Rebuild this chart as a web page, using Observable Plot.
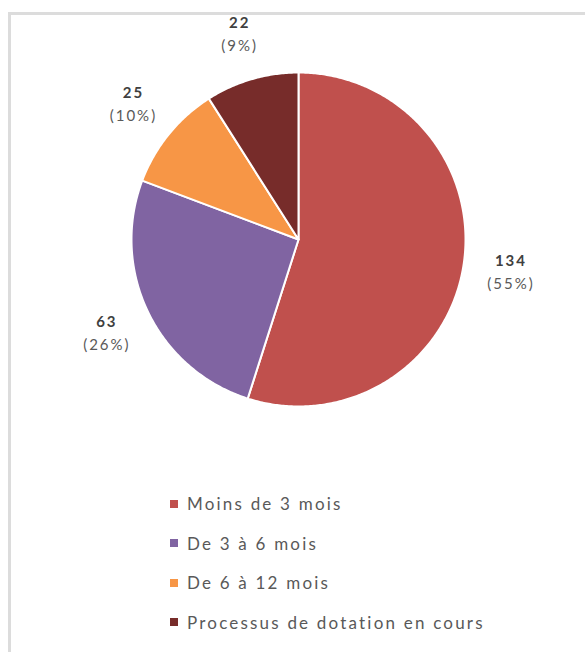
<!DOCTYPE html>
<html>
<head>
<meta charset="utf-8">
<script src="https://cdn.jsdelivr.net/npm/d3@7"></script>
<script src="https://cdn.jsdelivr.net/npm/@observablehq/plot@0.6"></script>
<style>
  html, body { margin: 0; padding: 0; background: #fff; width: 585px; height: 652px; overflow: hidden; }
  #frame { position: absolute; left: 8px; top: 12px; width: 700px; height: 700px; border: 3px solid #dcdcdc; box-sizing: border-box; }
  #chart { position: absolute; left: 0; top: 0; }
  #legend { position: absolute; left: 170px; top: 490px; font-family: Lato, "Open Sans", sans-serif; font-size: 17px; letter-spacing: 2.2px; color: #595959; }
  .item { display: flex; align-items: center; height: 27px; margin-bottom: 12.5px; white-space: nowrap; }
  .sw { width: 8px; height: 8px; margin-right: 9px; }
  #chart text { letter-spacing: 2px; }
</style>
</head>
<body>
<div id="frame"></div>
<div id="chart"></div>
<div id="legend"></div>
<script>
const categories = ["Moins de 3 mois", "De 3 à 6 mois", "De 6 à 12 mois", "Processus de dotation en cours"];
const values = [134, 63, 25, 22];
const percentLabels = ["(55%)", "(26%)", "(10%)", "(9%)"];
const colors = ["#C0504D", "#8064A2", "#F79646", "#772C2A"];

const W = 585, H = 470;
const cx = 298, cy = 239, R = 167, labelR = 214;

const table = categories.map((c, i) => ({category: c, value: values[i], pct: percentLabels[i]}));
const arcs = d3.pie().sort(null).value(d => d.value)(table);

// polygon outline of every slice, in data space (origin at pie centre, y up)
const outline = [];
for (const a of arcs) {
  const n = Math.max(2, Math.ceil((a.endAngle - a.startAngle) / 0.01));
  outline.push({category: a.data.category, x: 0, y: 0});
  for (let k = 0; k <= n; k++) {
    const t = a.startAngle + (a.endAngle - a.startAngle) * k / n;
    outline.push({category: a.data.category, x: R * Math.sin(t), y: R * Math.cos(t)});
  }
  outline.push({category: a.data.category, x: 0, y: 0});
}
const labels = arcs.map(a => {
  const m = (a.startAngle + a.endAngle) / 2;
  return {category: a.data.category, value: a.data.value, pct: a.data.pct,
          x: labelR * Math.sin(m), y: labelR * Math.cos(m)};
});

const plot = Plot.plot({
  width: W, height: H,
  margin: 0,
  x: {domain: [-cx, W - cx], range: [0, W], axis: null},
  y: {domain: [cy - H, cy], range: [H, 0], axis: null},
  color: {domain: categories, range: colors},
  style: {background: "transparent", fontFamily: "Lato, 'Open Sans', sans-serif"},
  marks: [
    Plot.line(outline, {x: "x", y: "y", z: "category", fill: "category", stroke: "white", strokeWidth: 2, strokeLinejoin: "round", curve: "linear"}),
    Plot.text(labels, {x: "x", y: "y", text: d => String(d.value), dx: 1, dy: -11, fontWeight: "bold", fontSize: 15, fill: "#404040"}),
    Plot.text(labels, {x: "x", y: "y", text: "pct", dx: 1, dy: 12, fontSize: 15, fill: "#595959"})
  ]
});
document.getElementById("chart").append(plot);

const legend = document.getElementById("legend");
categories.forEach((c, i) => {
  const item = document.createElement("div");
  item.className = "item";
  const sw = document.createElement("span");
  sw.className = "sw";
  sw.style.background = colors[i];
  const tx = document.createElement("span");
  tx.textContent = c;
  item.append(sw, tx);
  legend.append(item);
});
</script>
</body>
</html>
